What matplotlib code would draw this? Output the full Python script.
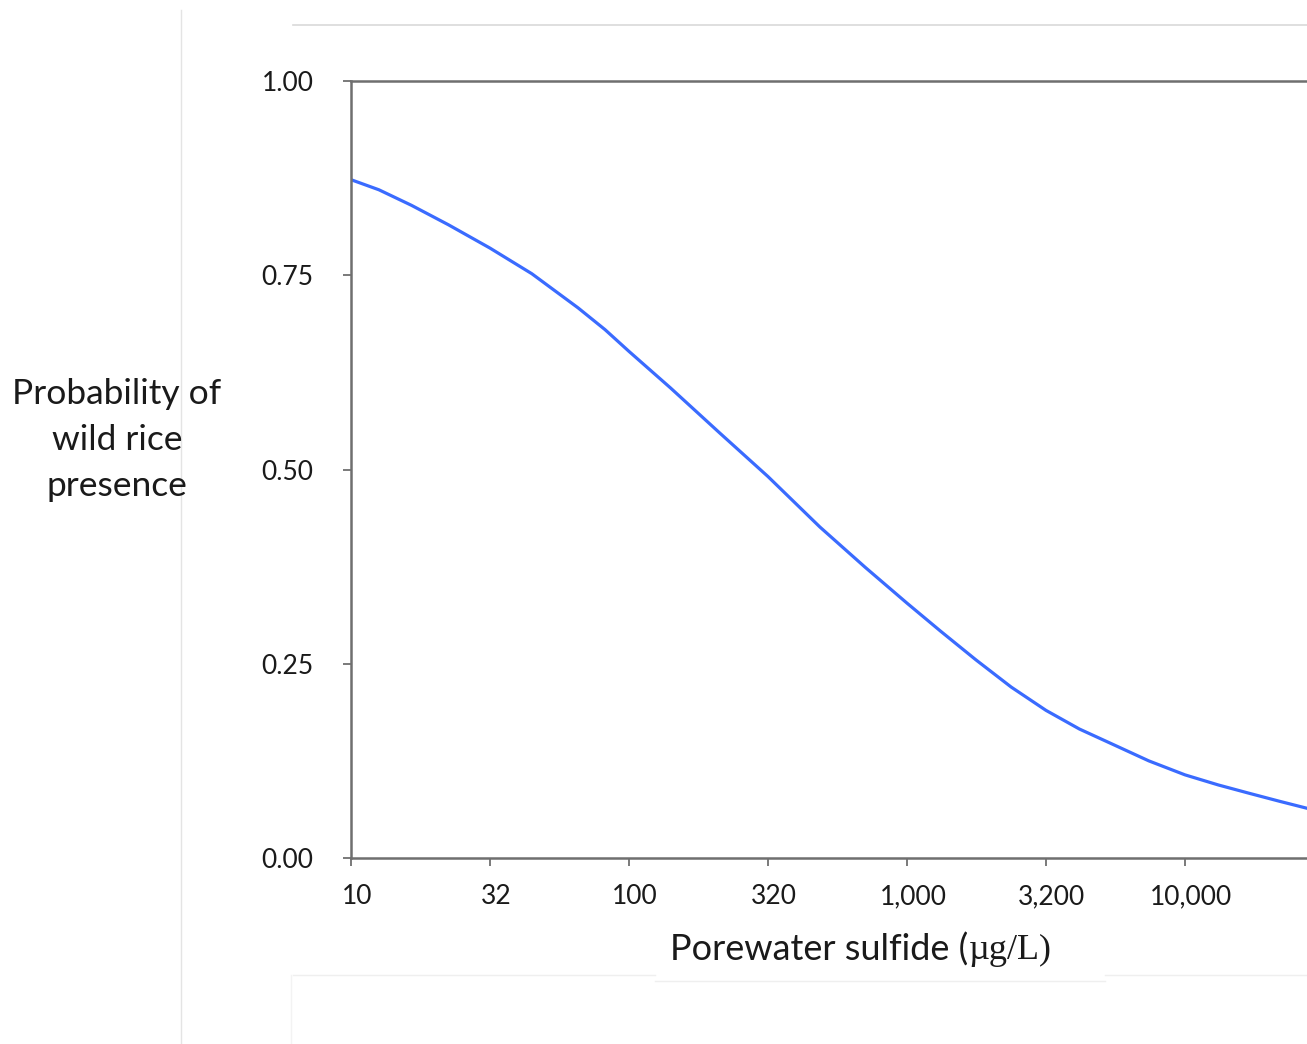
import matplotlib
matplotlib.use("Agg")
import matplotlib.pyplot as plt
from matplotlib.lines import Line2D
import matplotlib.transforms as mtransforms

# ---- data ----
sulfide = [10, 12.6, 16.5, 22.4, 31.6, 44.7, 65.6, 82, 100, 141, 212, 316, 486, 708,
           1000, 1320, 1770, 2370, 3162, 4170, 5600, 7410, 10000, 13180, 17140, 21880, 27470]
probability = [0.873, 0.860, 0.840, 0.815, 0.785, 0.752, 0.708, 0.680, 0.652, 0.605, 0.547,
               0.491, 0.426, 0.374, 0.328, 0.292, 0.255, 0.220, 0.190, 0.166, 0.145, 0.125,
               0.107, 0.094, 0.083, 0.073, 0.064]

x_ticks = [10, 31.6, 100, 316, 1000, 3162, 10000]
x_tick_labels = ["10", "32", "100", "320", "1,000", "3,200", "10,000"]
y_ticks = [0.0, 0.25, 0.5, 0.75, 1.0]
y_tick_labels = ["0.00", "0.25", "0.50", "0.75", "1.00"]

W, H = 1307, 1044
fig = plt.figure(figsize=(W / 100, H / 100), dpi=100)
fig.patch.set_facecolor("white")

# axes: left spine at x=351, bottom at y=858, top at y=81, right beyond the image
ax = fig.add_axes([351 / W, (H - 858) / H, (1324 - 351) / W, 777 / H])
ax.set_xscale("log")
ax.set_xlim(10, 10 ** 4.5)
ax.set_ylim(0, 1)

ax.plot(sulfide, probability, color="#3a6bff", lw=2.3, solid_joinstyle="round")

spine_col = "#6f6f6f"
for s in ["left", "bottom", "top"]:
    ax.spines[s].set_color(spine_col)
    ax.spines[s].set_linewidth(1.8)
ax.spines["right"].set_visible(False)

ax.minorticks_off()
ax.set_xticks(x_ticks)
ax.set_xticklabels(x_tick_labels)
ax.set_yticks(y_ticks)
ax.set_yticklabels(y_tick_labels)

tick_font = "Lato"
ax.tick_params(axis="y", direction="out", length=6, width=1.3, color=spine_col,
               pad=21, labelsize=19, labelcolor="#1a1a1a")
ax.tick_params(axis="x", direction="out", length=6, width=1.3, color=spine_col,
               pad=13, labelsize=19, labelcolor="#1a1a1a")
for lab in ax.get_xticklabels() + ax.get_yticklabels():
    lab.set_fontfamily(tick_font)

# shift x tick labels slightly right as in the reference
offset = mtransforms.ScaledTranslation(6 / 100, 0, fig.dpi_scale_trans)
for lab in ax.get_xticklabels():
    lab.set_transform(lab.get_transform() + offset)

# y label (horizontal, three lines)
fig.text(117 / W, 1 - 440 / H, "Probability of\nwild rice\npresence",
         ha="center", va="center", fontsize=25.5, family="Lato",
         color="#1a1a1a", linespacing=1.52, multialignment="center")

# x label: sans part + serif part
fig.canvas.draw()
renderer = fig.canvas.get_renderer()
y_lab = 1 - 950 / H
t1 = fig.text(0, y_lab, "Porewater sulfide (", ha="left", va="center",
              fontsize=26, family="Lato", color="#1a1a1a")
t2 = fig.text(0, y_lab, "\u00b5g/L)", ha="left", va="center",
              fontsize=26, family="Liberation Serif", color="#1a1a1a")
w1 = t1.get_window_extent(renderer).width
start = 670
t1.set_x(start / W)
t2.set_x((start + w1 + 1) / W)

# faint screenshot frame lines
light = "#d9d9d9"
fig.add_artist(Line2D([181 / W, 181 / W], [1 - 10 / H, 0], color="#e4e4e4", lw=1.0))
fig.add_artist(Line2D([293 / W, 1.0], [1 - 25 / H, 1 - 25 / H], color=light, lw=1.2))
fig.add_artist(Line2D([293 / W, 655 / W], [1 - 975 / H, 1 - 975 / H], color="#efefef", lw=1.0))
fig.add_artist(Line2D([655 / W, 1105 / W], [1 - 981 / H, 1 - 981 / H], color="#efefef", lw=1.0))
fig.add_artist(Line2D([1105 / W, 1.0], [1 - 975 / H, 1 - 975 / H], color="#efefef", lw=1.0))
fig.add_artist(Line2D([291 / W, 291 / W], [1 - 975 / H, 0], color="#f3f3f3", lw=1.0))

fig.savefig("out.png", dpi=100, facecolor="white")
